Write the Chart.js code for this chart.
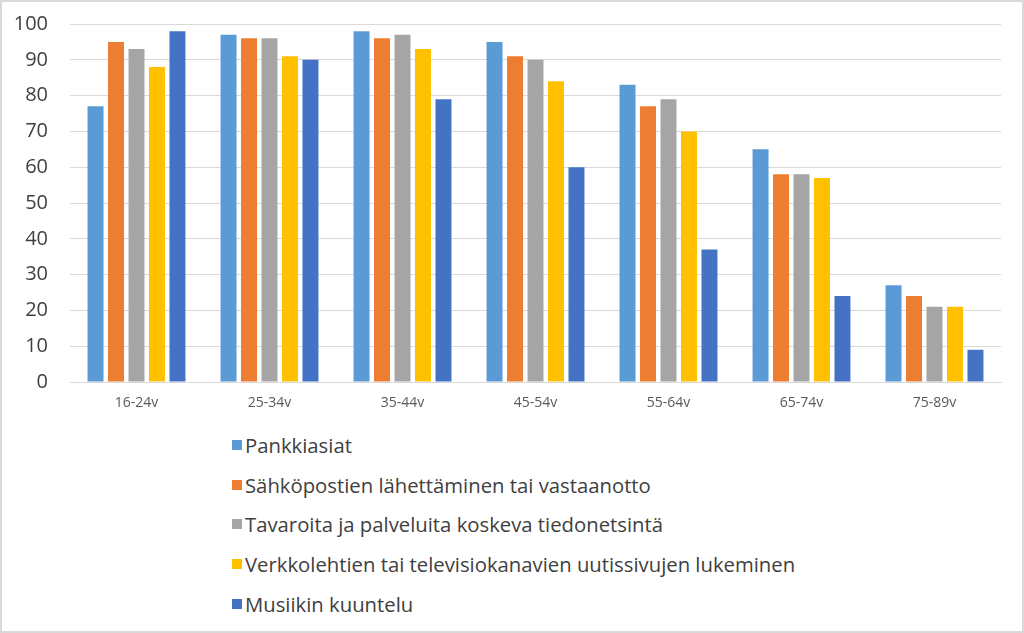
<!DOCTYPE html>
<html>
<head>
<meta charset="utf-8">
<script src="https://cdn.jsdelivr.net/npm/chart.js@4.4.0/dist/chart.umd.min.js"></script>
<style>
  html, body { margin: 0; padding: 0; background: #fff; }
  #page { position: relative; width: 1024px; height: 633px; overflow: hidden; font-family: "Open Sans", sans-serif; }
  #chartBox { position: absolute; left: 0; top: 0; width: 1024px; height: 420px; }
  #legend { position: absolute; left: 232px; top: 425px; margin: 0; padding: 0; list-style: none; }
  #legend li { height: 39.7px; display: flex; align-items: center; font-size: 20.3px; color: #404040; white-space: nowrap; }
  #legend .box { width: 10px; height: 10px; margin-right: 3px; display: inline-block; }
  #frame { position: absolute; left: 0; top: 0; width: 1024px; height: 633px; box-sizing: border-box; border: 2px solid #d9d9d9; pointer-events: none; }
</style>
</head>
<body>
<div id="page">
  <div id="chartBox"><canvas id="usageChart"></canvas></div>
  <ul id="legend"></ul>
  <div id="frame"></div>
</div>
<script>
// Age groups
const ageGroups = ['16-24v', '25-34v', '35-44v', '45-54v', '55-64v', '65-74v', '75-89v'];

// Series names and colours
const seriesNames = [
  'Pankkiasiat',
  'Sähköpostien lähettäminen tai vastaanotto',
  'Tavaroita ja palveluita koskeva tiedonetsintä',
  'Verkkolehtien tai televisiokanavien uutissivujen lukeminen',
  'Musiikin kuuntelu'
];
const seriesColors = ['#5B9BD5', '#ED7D31', '#A5A5A5', '#FFC000', '#4472C4'];

// Values per series (%)
const banking = [77, 97, 98, 95, 83, 65, 27];
const email = [95, 96, 96, 91, 77, 58, 24];
const productInfo = [93, 96, 97, 90, 79, 58, 21];
const news = [88, 91, 93, 84, 70, 57, 21];
const music = [98, 90, 79, 60, 37, 24, 9];
const seriesValues = [banking, email, productInfo, news, music];

// Y axis ticks
const yMin = 0, yMax = 100, yStep = 10;

window.onload = function() {
  const ctx = document.getElementById('usageChart').getContext('2d');
  const usageChart = new Chart(ctx, {
    type: 'bar',
    data: {
      labels: ageGroups,
      datasets: seriesNames.map((name, i) => ({
        label: name,
        data: seriesValues[i],
        backgroundColor: seriesColors[i],
        borderWidth: 0,
        categoryPercentage: 0.77,
        barPercentage: 0.78
      }))
    },
    options: {
      responsive: true,
      maintainAspectRatio: false,
      animation: false,
      layout: { padding: { top: 24, right: 23, left: 0, bottom: 0 } },
      scales: {
        x: {
          grid: { display: false, drawTicks: false },
          border: { display: true, color: '#d9d9d9' },
          ticks: { color: '#595959', font: { family: 'Open Sans', size: 14 }, padding: 13 },
          afterFit: function(scale) { scale.height = 38; scale.paddingLeft = 0; scale.paddingRight = 0; }
        },
        y: {
          min: yMin,
          max: yMax,
          ticks: { stepSize: yStep, color: '#404040', font: { family: 'Open Sans', size: 20 }, padding: 22 },
          grid: { color: '#d9d9d9', drawTicks: false },
          border: { display: false },
          afterFit: function(scale) { scale.width = 70; scale.paddingTop = 0; scale.paddingBottom = 0; }
        }
      },
      plugins: {
        legend: { display: false },
        tooltip: { enabled: false }
      }
    }
  });

  // Vertical legend built from the datasets
  const legendEl = document.getElementById('legend');
  usageChart.data.datasets.forEach(ds => {
    const li = document.createElement('li');
    const box = document.createElement('span');
    box.className = 'box';
    box.style.background = ds.backgroundColor;
    li.appendChild(box);
    li.appendChild(document.createTextNode(ds.label));
    legendEl.appendChild(li);
  });
};
</script>
</body>
</html>
